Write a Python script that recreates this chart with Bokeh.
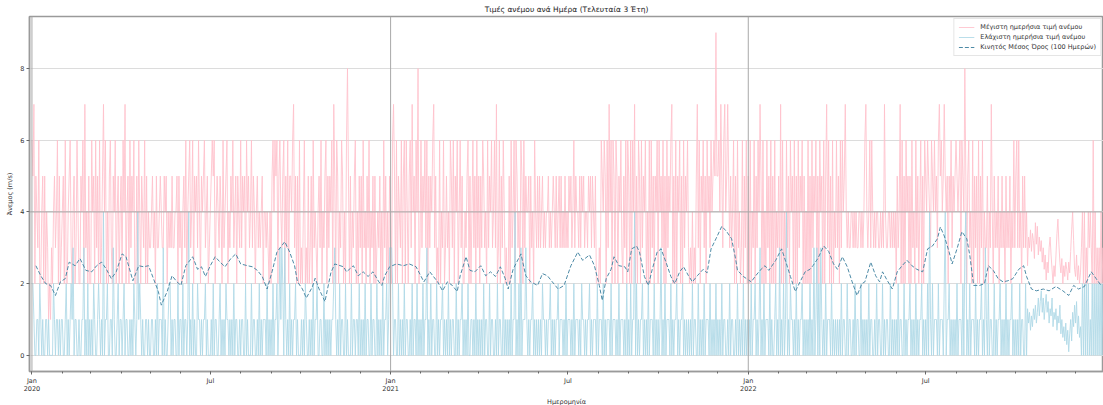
import pandas as pd
from bokeh.plotting import figure
from bokeh.models import FixedTicker, Span, Legend, LegendItem, Title
from bokeh.embed import file_html
from bokeh.resources import INLINE

# ---- daily maximum wind (m/s), one string per month, one digit per day ----
max_2020 = [
    "6572543622452524312132453462523", "45262245632452364225462734252",
    "2645263526235746242563254624524", "526472452635462252642543625243",
    "3453425334543354524343533445253", "424536245634625453642545634523",
    "4565624543542634562435463452543", "6354526453463542453434524434324",
    "256465625643562536255467352526", "2324623252352634324536243562535",
    "462752652436524268525243562425", "3526342536243525234352426352425",
]
max_2021 = [
    "4267526254362562642563745264823", "6354636253546735232624362353",
    "4265362546246352243562524635263", "525365342635463463723625364232",
    "2526346265342652635445253426435", "353453434453434543534535343534",
    "3545346354435354534435453543522", "2326546526374626526525463253626",
    "526264725265263546242626352546", "2645362526354672526254625263546",
    "323242325736254635264536456595", "5647536745753534625263423625362",
]
max_2022 = [
    "5262436253647526242635262526243", "5272624263526452625263546252",
    "4262526354625264526257362526243", "635263645743433443434334434346",
    "7434636434344334343743344343434", "253472625264525263426352462526",
    "5465436546453675645754525463545", "6545626548525634262535262536243",
    "352437425343524353425343524363", "563634253534",
]
max_late_2022 = [2.5, 3.3, 3.0, 3.5, 2.9, 3.4, 3.2, 2.7,
                 3.7, 3.1, 3.6, 2.8, 3.3, 2.9, 3.2, 2.6, 3.0, 2.4, 2.8,
                 2.1, 2.6, 2.3, 3.0, 3.3, 2.8, 2.4, 2.0, 2.5, 2.2,
                 2.8, 3.4, 3.8, 3.1, 2.6, 2.3, 2.7, 2.0, 2.5, 2.2,
                 2.6, 2.4, 2.1, 2.6, 2.3, 2.9, 3.5, 4.0, 3.2, 2.4,
                 2.2, 2.8, 2.1, 2.5, 2.0, 2.3]
max_dec_2022 = "3424232434326242323242324"

# ---- daily minimum wind (m/s) ----
min_2020 = [
    "2210011021010011010000210110101", "10012010121301100100113010201",
    "0102100121010401120011031001201", "101201100101021014121010011010",
    "0110010201110301001220101100201", "102011014010201002110101120100",
    "0102011001201010211010102011001", "0110020100020110010201011102010",
    "102011201313203101020101120100", "0101021001010201120011002010101",
    "011231010201100201000201101102", "0101020110020110020101020112013",
]
min_2021 = [
    "3320110020101020110010201102010", "1020113010201100201011201010",
    "2010110020101120101020011010201", "010102011002011001020110020101",
    "0102011401020301113101011201010", "101021101011201010112011101020",
    "1110102011101021101011201011102", "0111020101110201110102011101020",
    "102011402010112010102011102010", "1013010201110201011201011201010",
    "101020110020101020111020101020", "1010201100102011001020101020101",
]
min_2022 = [
    "0102011201013010201110201001201", "0301020140102110102010112010",
    "1010201030130203101020111020101", "010102011002011001020110020101",
    "0102011001020110020101100201010", "102011002010112010102010112010",
    "1020410201110201110240112010101", "0201110203401020111020101120103",
    "102011002010112010102010112010", "101020110020",
]
min_late_2022 = [1.3, 0.9, 1.2, 0.7, 1.1, 0.8, 1.3, 1.0,
                 1.4, 0.9, 1.2, 1.6, 1.1, 1.5, 1.8, 1.2, 1.6, 1.0, 1.4,
                 1.7, 1.2, 1.5, 0.9, 1.3, 1.1, 1.6, 0.8, 1.2, 1.0,
                 1.3, 0.7, 1.1, 0.9, 1.4, 0.6, 1.0, 0.5, 0.8, 0.4,
                 0.9, 0.3, 0.7, 0.1, 0.6, 1.0, 0.4, 1.2, 0.8, 1.4,
                 0.9, 1.5, 0.6, 1.1, 0.5, 0.8]
min_dec_2022 = "0202020201020202020202010"

# ---- moving average (day number since 2020-01-01, value) ----
ma_day = [4, 9, 14, 19, 24, 29, 34, 38, 44, 49,
          55, 61, 66, 71, 76, 81, 86, 92, 96, 103,
          109, 114, 119, 124, 129, 132, 138, 143, 148, 152,
          157, 164, 169, 173, 177, 182, 187, 192, 197, 203,
          208, 213, 220, 225, 230, 235, 240, 245, 250, 258,
          263, 268, 271, 276, 280, 286, 289, 293, 299, 305,
          309, 318, 321, 328, 333, 338, 343, 348, 354, 357,
          360, 365, 372, 379, 385, 392, 400, 406, 414, 419,
          424, 429, 434, 437, 443, 447, 452, 458, 463, 468,
          473, 478, 483, 486, 491, 499, 504, 509, 516, 521,
          526, 531, 537, 543, 550, 557, 562, 569, 574, 579,
          582, 586, 591, 594, 599, 605, 608, 612, 617, 620,
          625, 629, 633, 638, 642, 647, 652, 656, 661, 665,
          670, 674, 679, 685, 689, 693, 698, 704, 709, 714,
          718, 720, 726, 734, 738, 743, 748, 752, 759, 765,
          770, 774, 779, 782, 789, 794, 797, 802, 808, 813,
          818, 822, 827, 832, 837, 842, 847, 850, 856, 861,
          865, 868, 873, 878, 883, 888, 893, 898, 903, 909,
          914, 919, 924, 927, 931, 936, 939, 944, 949, 954,
          957, 961, 967, 972, 976, 981, 986, 991, 996, 1001,
          1007, 1012, 1015, 1020, 1025, 1032, 1038, 1045, 1052, 1058,
          1063, 1068, 1074, 1081, 1086, 1091]
ma_value = [2.5, 2.22, 2.0, 1.95, 1.67, 2.05, 2.14, 2.6, 2.5, 2.7,
            2.37, 2.33, 2.5, 2.6, 2.4, 2.14, 2.33, 2.83, 2.75, 2.08,
            2.5, 2.47, 2.5, 2.14, 1.78, 1.4, 1.78, 2.22, 2.05, 1.95,
            2.5, 2.75, 2.4, 2.47, 2.2, 2.5, 2.75, 2.6, 2.47, 2.7,
            2.83, 2.55, 2.5, 2.47, 2.37, 2.2, 1.85, 2.33, 2.88, 3.17,
            2.88, 2.5, 2.05, 1.85, 1.6, 1.9, 2.15, 1.85, 1.5, 2.3,
            2.55, 2.47, 2.33, 2.5, 2.22, 2.33, 2.2, 2.33, 2.05, 1.95,
            2.22, 2.47, 2.55, 2.5, 2.55, 2.47, 2.05, 2.33, 2.05, 1.8,
            2.05, 1.95, 1.78, 2.22, 2.75, 2.37, 2.33, 2.5, 2.22, 2.33,
            2.2, 2.47, 2.14, 1.85, 2.4, 2.83, 2.22, 2.05, 1.95, 2.28,
            2.22, 2.05, 1.85, 1.95, 2.5, 2.88, 2.65, 2.8, 2.5, 1.95,
            1.53, 2.14, 2.4, 2.75, 2.5, 2.47, 2.33, 2.97, 3.05, 2.88,
            2.2, 1.95, 2.4, 2.88, 2.97, 2.6, 2.2, 2.0, 2.33, 2.47,
            2.22, 2.05, 2.22, 2.4, 2.3, 2.97, 3.25, 3.6, 3.45, 3.25,
            2.7, 2.37, 2.2, 2.05, 2.2, 2.37, 2.5, 2.37, 2.65, 2.97,
            2.55, 2.2, 1.78, 1.95, 2.33, 2.4, 2.5, 2.7, 3.05, 2.9,
            2.55, 2.4, 2.75, 2.47, 2.05, 1.67, 2.0, 2.05, 2.6, 2.22,
            2.05, 2.33, 2.08, 1.85, 2.33, 2.5, 2.65, 2.5, 2.4, 2.33,
            2.97, 3.05, 3.25, 3.58, 3.33, 2.88, 2.55, 2.97, 3.45, 3.25,
            2.8, 1.95, 1.95, 2.0, 2.5, 2.37, 2.14, 2.05, 2.08, 2.14,
            2.4, 2.5, 2.2, 1.85, 1.8, 1.85, 1.8, 1.92, 1.8, 1.67,
            1.95, 1.85, 1.92, 2.33, 2.14, 1.95]

y_ticks = [0, 2, 4, 6, 8]
x_major_labels = ["Jan\n2020", "Jul", "Jan\n2021", "Jul", "Jan\n2022", "Jul"]
x_major_dates = ["2020-01-01", "2020-07-01", "2021-01-01", "2021-07-01", "2022-01-01", "2022-07-01"]
year_starts = ["2020-01-01", "2021-01-01", "2022-01-01"]

title_text = "Τιμές ανέμου ανά Ημέρα (Τελευταία 3 Έτη)"
x_label = "Ημερομηνία"
y_label = "Άνεμος (m/s)"
legend_labels = ["Μέγιστη ημερήσια τιμή ανέμου", "Ελάχιστη ημερήσια τιμή ανέμου",
                 "Κινητός Μέσος Όρος (100 Ημερών)"]


def digits(parts):
    return [int(c) for c in "".join(parts)]


max_vals = digits(max_2020) + digits(max_2021) + digits(max_2022) + list(max_late_2022) + digits([max_dec_2022])
min_vals = digits(min_2020) + digits(min_2021) + digits(min_2022) + list(min_late_2022) + digits([min_dec_2022])
start = pd.Timestamp("2020-01-01")
max_dates = pd.date_range(start, periods=len(max_vals), freq="D")
min_dates = pd.date_range(start, periods=len(min_vals), freq="D")
n_ma = min(len(ma_day), len(ma_value))
ma_dates = start + pd.to_timedelta(ma_day[:n_ma], unit="D")


def ms(d):
    return int(pd.Timestamp(d).value // 10**6)


x0 = start - pd.Timedelta(days=2.5)
x1 = x0 + pd.Timedelta(days=1096)

FONT = "DejaVu Sans"
p = figure(width=1103, height=405, x_axis_type="datetime",
           x_range=(x0, x1), y_range=(-0.45, 9.45),
           output_backend="svg", toolbar_location=None,
           min_border_left=29, min_border_right=0, min_border_top=2, min_border_bottom=0)
p.background_fill_color = "white"
p.border_fill_color = "white"
p.outline_line_color = "#9a9a9a"
p.outline_line_width = 1.5

p.title.text = title_text
p.title.align = "center"
p.title.text_font = FONT
p.title.text_font_size = "7.5px"
p.title.text_font_style = "normal"
p.title.text_color = "#222222"
p.title.standoff = 5

# grids
p.xgrid.visible = False
p.ygrid.ticker = FixedTicker(ticks=y_ticks)
p.ygrid.grid_line_color = "#dcdcdc"
p.ygrid.grid_line_width = 1
p.add_layout(Span(location=4, dimension="width", line_color="#a8a8a8", line_width=1))
for d in year_starts:
    p.add_layout(Span(location=ms(d), dimension="height", line_color="#a8a8a8", line_width=1))

# axes
minor = [ms(d) for d in pd.date_range("2019-12-01", "2023-01-01", freq="MS")]
p.xaxis.ticker = FixedTicker(ticks=[ms(d) for d in x_major_dates], minor_ticks=minor)
p.xaxis.major_label_overrides = {ms(d): lab for d, lab in zip(x_major_dates, x_major_labels)}
p.yaxis.ticker = FixedTicker(ticks=y_ticks)
p.yaxis.axis_label = y_label
for ax in (p.xaxis[0], p.yaxis[0]):
    ax.axis_line_color = "#9a9a9a"
    ax.axis_line_width = 1.5
    ax.major_tick_line_color = "#666666"
    ax.minor_tick_line_color = "#666666"
    ax.major_tick_out = 3
    ax.major_tick_in = 0
    ax.minor_tick_out = 2
    ax.minor_tick_in = 0
    ax.major_label_text_font = FONT
    ax.major_label_text_font_size = "6.5px"
    ax.major_label_text_line_height = 1.0
    ax.major_label_text_color = "#333333"
    ax.major_label_standoff = 2
    ax.axis_label_text_font = FONT
    ax.axis_label_text_font_size = "6.5px"
    ax.axis_label_text_font_style = "normal"
    ax.axis_label_text_color = "#333333"
    ax.axis_label_standoff = 3

xt = Title(text=x_label, align="center", text_font=FONT, text_font_size="6.5px",
           text_font_style="normal", text_color="#333333", standoff=0)
p.add_layout(xt, "below")

r_max = p.line(max_dates, max_vals, line_color="pink", line_width=0.85)
r_min = p.line(min_dates, min_vals, line_color="lightblue", line_width=0.85)
r_ma = p.line(ma_dates, ma_value[:n_ma], line_color="#4d8aa6", line_width=1, line_dash="4 2")

legend = Legend(items=[LegendItem(label=legend_labels[0], renderers=[r_max]),
                       LegendItem(label=legend_labels[1], renderers=[r_min]),
                       LegendItem(label=legend_labels[2], renderers=[r_ma])],
                location="top_right")
legend.label_text_font = FONT
legend.label_text_font_size = "6.5px"
legend.label_text_color = "#333333"
legend.label_height = 8
legend.label_standoff = 6
legend.glyph_width = 16
legend.glyph_height = 8
legend.spacing = 2
legend.padding = 4
legend.margin = 2
legend.border_line_color = "#cccccc"
legend.border_line_width = 1
legend.background_fill_alpha = 0.9
p.add_layout(legend)

open("out.html", "w").write(file_html(p, INLINE))
